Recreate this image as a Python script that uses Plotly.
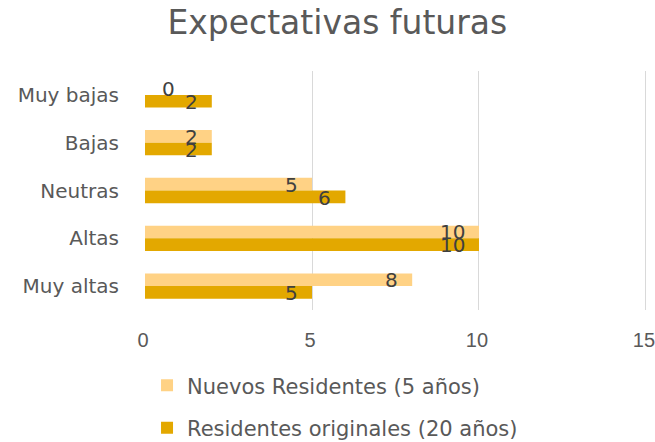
import plotly.graph_objects as go

categories = ["Muy bajas", "Bajas", "Neutras", "Altas", "Muy altas"]
nuevos = [0, 2, 5, 10, 8]
originales = [2, 2, 6, 10, 5]
series_names = ["Nuevos Residentes (5 años)", "Residentes originales (20 años)"]
colors = ["#FFD285", "#E3A800"]
x_ticks = [0, 5, 10, 15]

FONT = "DejaVu Sans"
GREY = "#595959"

fig = go.Figure()
for name, vals, col in zip(series_names, [nuevos, originales], colors):
    fig.add_trace(go.Bar(y=categories, x=vals, name=name, orientation="h",
                         marker=dict(color=col, line=dict(width=0)),
                         legendgroup=name))

annotations = []
for i, vals in enumerate([nuevos, originales]):
    yshift = 6 if i == 0 else -7
    for c, v in zip(categories, vals):
        if v > 0:
            annotations.append(dict(x=v, y=c, text=str(v), showarrow=False,
                                    xanchor="right", xshift=-12, yshift=yshift,
                                    font=dict(family=FONT, size=20, color="#404040")))
        else:
            annotations.append(dict(x=v, y=c, text=str(v), showarrow=False,
                                    xanchor="left", xshift=15, yshift=yshift,
                                    font=dict(family=FONT, size=20, color="#404040")))

fig.update_layout(
    width=655, height=442,
    margin=dict(l=145, r=4, t=71, b=132, autoexpand=False),
    paper_bgcolor="white", plot_bgcolor="white",
    title=dict(text="Expectativas futuras", x=0.515, xanchor="center",
               y=1 - 22 / 442, yanchor="middle",
               font=dict(family=FONT, size=33, color=GREY)),
    barmode="group", bargap=0.47, bargroupgap=0,
    font=dict(family=FONT, size=20, color=GREY),
    xaxis=dict(range=[0, 15.15], tickvals=x_ticks, showgrid=True, gridcolor="#D9D9D9", gridwidth=1,
               zeroline=False, showline=False, ticks="", ticklabelstandoff=16, automargin=False,
               ticklabeloverflow="allow", ticklabelshift=-2,
               tickfont=dict(family="Liberation Sans", size=20, color=GREY)),
    yaxis=dict(autorange="reversed", showgrid=False, zeroline=False, showline=False, ticks="",
               ticklabelstandoff=25, automargin=False, tickfont=dict(family=FONT, size=20, color=GREY)),
    legend=dict(orientation="v", x=0.004, xanchor="left", y=-0.231, yanchor="top",
                traceorder="grouped", tracegroupgap=12,
                font=dict(family=FONT, size=21, color=GREY), itemwidth=30),
    annotations=annotations,
)

fig.write_html("out.html", config={"displayModeBar": False},
               post_script="document.body.style.margin='0';document.body.style.overflow='hidden';")
